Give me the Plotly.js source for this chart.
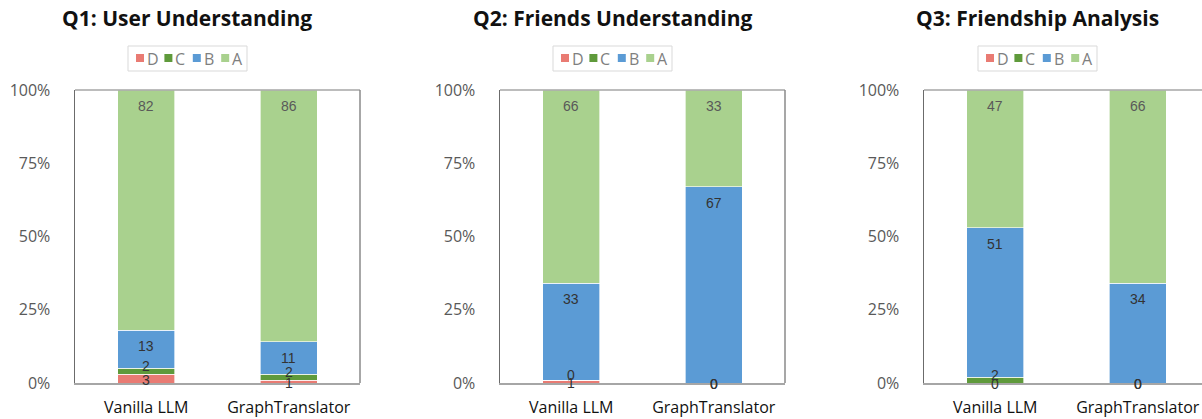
<!DOCTYPE html>
<html>
<head>
<meta charset="utf-8">
<script src="https://cdn.plot.ly/plotly-3.0.1.min.js"></script>
<style>html,body{margin:0;padding:0;background:#fff;}#chart{width:1202px;height:419px;}</style>
</head>
<body>
<div id="chart"></div>
<script>
// ---- data ----
const categories = ['Vanilla LLM', 'GraphTranslator'];
const panelTitles = ['Q1: User Understanding', 'Q2: Friends Understanding', 'Q3: Friendship Analysis'];
const seriesNames = ['D', 'C', 'B', 'A'];
const seriesColors = ['#E97B73', '#5F9A3B', '#5B9BD5', '#A9D18E'];

const q1D = [3, 1];
const q1C = [2, 2];
const q1B = [13, 11];
const q1A = [82, 86];

const q2D = [1, 0];
const q2C = [0, 0];
const q2B = [33, 67];
const q2A = [66, 33];

const q3D = [0, 0];
const q3C = [2, 0];
const q3B = [51, 34];
const q3A = [47, 66];

const yTickVals = [0, 25, 50, 75, 100];
const yTickText = ['0%', '25%', '50%', '75%', '100%'];

// ---- layout geometry (pixels) ----
const W = 1202, H = 419;
const plotTop = 90, plotBottom = 383;
const panelsPx = [[75, 360], [500, 785], [924, 1209]];
const panelOffset = 425;
const catPx = (panelsPx[0][1] - panelsPx[0][0]) / 2;

const panels = [
  [q1D, q1C, q1B, q1A],
  [q2D, q2C, q2B, q2A],
  [q3D, q3C, q3B, q3A]
];

const traces = [];
const annotations = [];
const shapes = [];
const layout = {
  width: W, height: H,
  margin: {l: 0, r: 0, t: plotTop, b: H - plotBottom, pad: 0},
  barmode: 'stack',
  bargap: 0.6,
  showlegend: false,
  paper_bgcolor: '#ffffff',
  plot_bgcolor: '#ffffff',
  font: {family: 'Open Sans, sans-serif', color: '#595959'}
};

const pxPerPaperY = plotBottom - plotTop;
function paperY(py) { return (plotBottom - py) / pxPerPaperY; }
function paperX(px) { return px / W; }

panels.forEach((series, p) => {
  const sfx = p === 0 ? '' : String(p + 1);
  const xa = 'x' + sfx, ya = 'y' + sfx;
  const x0 = panelsPx[p][0];
  const x1 = Math.min(panelsPx[p][1], W);
  const rangeMax = -0.5 + (x1 - x0) / catPx;
  const off = panelOffset * p;
  layout['xaxis' + sfx] = {
    domain: [x0 / W, x1 / W],
    range: [-0.5, rangeMax],
    type: 'category',
    anchor: ya,
    showline: true, linecolor: '#a6a6a6', linewidth: 2,
    showgrid: false, zeroline: false, ticks: '',
    tickfont: {size: 16, color: '#111111', family: 'Open Sans, sans-serif'},
    ticklabelstandoff: 9,
    fixedrange: true
  };
  layout['yaxis' + sfx] = {
    domain: [0, 1],
    range: [0, 100],
    anchor: xa,
    showline: true, linecolor: '#6b6b6b', linewidth: 1.5,
    showgrid: false, zeroline: false, ticks: '',
    tickvals: yTickVals, ticktext: yTickText,
    tickfont: {size: 16, color: '#595959', family: 'Open Sans, sans-serif'},
    ticklabelstandoff: 20,
    fixedrange: true
  };
  // top border
  shapes.push({type: 'line', xref: xa + ' domain', yref: ya + ' domain', x0: 0, x1: 1, y0: 1, y1: 1,
    line: {color: '#7a7a7a', width: 1.2}});
  // right border (only if inside canvas)
  if (panelsPx[p][1] <= W) {
    shapes.push({type: 'line', xref: xa + ' domain', yref: ya + ' domain', x0: 1, x1: 1, y0: 0, y1: 1,
      line: {color: '#8a8a8a', width: 1.5}});
  }

  // bars
  series.forEach((vals, s) => {
    traces.push({
      type: 'bar', x: categories, y: vals, name: seriesNames[s],
      xaxis: xa, yaxis: ya,
      marker: {color: seriesColors[s], line: {color: 'rgba(255,255,255,0.8)', width: 0.8}},
      hoverinfo: 'skip'
    });
  });

  // data labels
  categories.forEach((cat, j) => {
    let base = 0;
    series.forEach((vals, s) => {
      const v = vals[j];
      let y, yshift;
      if (v >= 8) { y = base + v; yshift = -16; }
      else {
        y = base + v / 2;
        if (v === 0 && base === 0) yshift = -1;
        else if (seriesNames[s] === 'C') yshift = 5;
        else if (seriesNames[s] === 'D') yshift = -1;
        else yshift = 0;
      }
      annotations.push({
        xref: xa, yref: ya, x: cat, y: y, yshift: yshift,
        text: String(v), showarrow: false, xanchor: 'center', yanchor: 'middle',
        font: {family: 'Liberation Sans, Arial, sans-serif', size: 14,
               color: seriesNames[s] === 'A' ? '#595959' : '#333333'}
      });
      base += v;
    });
  });

  // panel title (centered over chart area)
  annotations.push({
    xref: 'paper', yref: 'paper', x: paperX(187 + off), y: paperY(18), xanchor: 'center', yanchor: 'middle',
    text: '<b>' + panelTitles[p] + '</b>', showarrow: false,
    font: {family: 'Open Sans, sans-serif', size: 21, color: '#111111'}
  });

  // legend box
  shapes.push({type: 'rect', xref: 'paper', yref: 'paper',
    x0: paperX(128 + off), x1: paperX(247 + off), y0: paperY(71), y1: paperY(46),
    line: {color: '#d9d9d9', width: 1}, fillcolor: '#ffffff'});
  seriesNames.forEach((n, s) => {
    const sx = 136 + off + 28.4 * s;
    shapes.push({type: 'rect', xref: 'paper', yref: 'paper',
      x0: paperX(sx), x1: paperX(sx + 8), y0: paperY(62), y1: paperY(54),
      line: {width: 0}, fillcolor: seriesColors[s]});
    annotations.push({
      xref: 'paper', yref: 'paper', x: paperX(sx + 10), y: paperY(58.5), xanchor: 'left', yanchor: 'middle',
      text: n, showarrow: false, borderpad: 0,
      font: {family: 'Open Sans, sans-serif', size: 16, color: '#7f7f7f'}
    });
  });
});

layout.annotations = annotations;
layout.shapes = shapes;

Plotly.newPlot('chart', traces, layout, {displayModeBar: false, staticPlot: true});
</script>
</body>
</html>
